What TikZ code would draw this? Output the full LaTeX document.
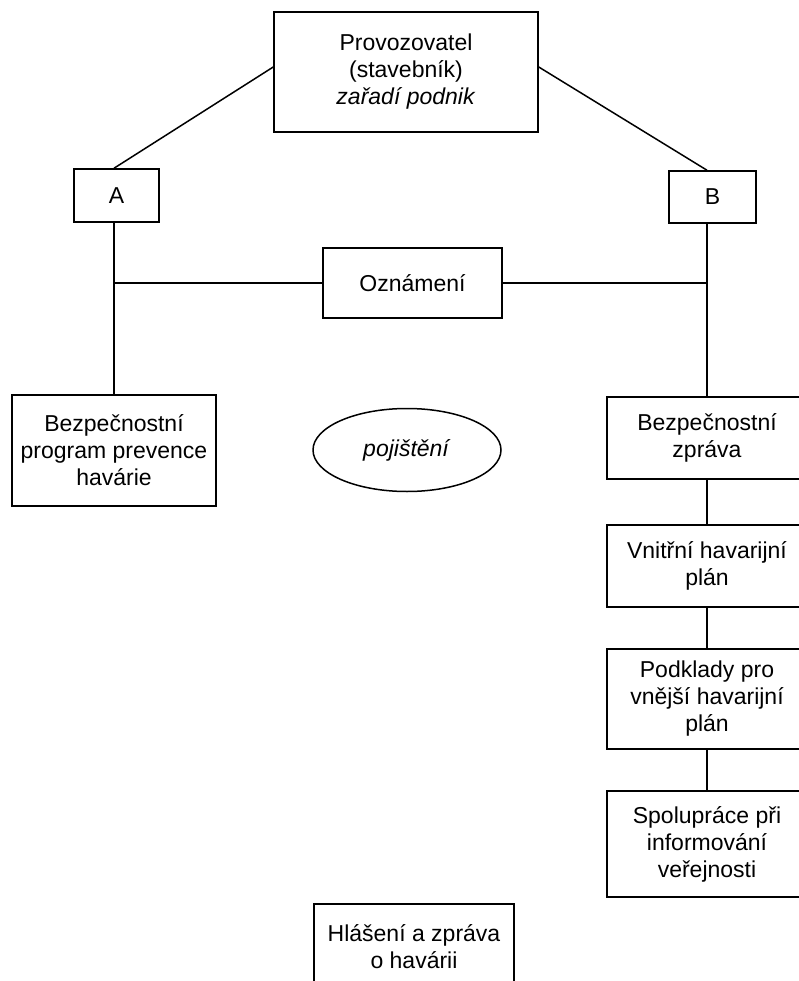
\documentclass[tikz,border=0pt]{standalone}
\usepackage{fontspec}
\setmainfont{Liberation Sans}
\usetikzlibrary{shapes.geometric}
\begin{document}
\begin{tikzpicture}[x=1pt,y=-1pt,
  every node/.style={font=\fontsize{23}{27}\selectfont, align=center, inner sep=0pt},
  box/.style={draw, line width=1.5pt, rectangle},
  conn/.style={line width=1.5pt}]
\useasboundingbox (0,0) rectangle (799,981);
\clip (0,0) rectangle (799,981);
\node[box, minimum width=264, minimum height=120] (top) at (406,72) {Provozovatel\\(stavebník)\\\textit{zařadí podnik}};
\node[box, minimum width=85, minimum height=53] (A) at (116.5,195.5) {A};
\node[box, minimum width=87, minimum height=52] (B) at (712.5,197) {B};
\node[box, minimum width=179, minimum height=70] (ozn) at (412.5,283) {Oznámení};
\node[box, minimum width=204, minimum height=111] (L) at (114,450.5) {Bezpečnostní\\program prevence\\havárie};
\node[draw, line width=1.5pt, ellipse, minimum width=188, minimum height=83] (poj) at (407,450) {\textit{pojištění}};
\node[box, minimum width=200, minimum height=82] (bz) at (707,438) {Bezpečnostní\\zpráva};
\node[box, minimum width=200, minimum height=82] (vhp) at (707,566) {Vnitřní havarijní\\plán};
\node[box, minimum width=200, minimum height=100] (pod) at (707,699) {Podklady pro\\vnější havarijní\\plán};
\node[box, minimum width=200, minimum height=106] (spo) at (707,844) {Spolupráce při\\informování\\veřejnosti};
\node[box, minimum width=200, minimum height=86] (hl) at (414,947) {Hlášení a zpráva\\o havárii};
\draw[conn] ([yshift=5pt]top.west) -- (A.north -| L.north);
\draw[conn] ([yshift=5pt]top.east) -- (B.north -| bz.north);
\draw[conn] (A.south -| L.north) -- (L.north);
\draw[conn] (B.south -| bz.north) -- (bz.north);
\draw[conn] (ozn.west) -- (ozn.west -| L.north);
\draw[conn] (ozn.east) -- (ozn.east -| bz.north);
\draw[conn] (bz.south) -- (vhp.north);
\draw[conn] (vhp.south) -- (pod.north);
\draw[conn] (pod.south) -- (spo.north);
\end{tikzpicture}
\end{document}
